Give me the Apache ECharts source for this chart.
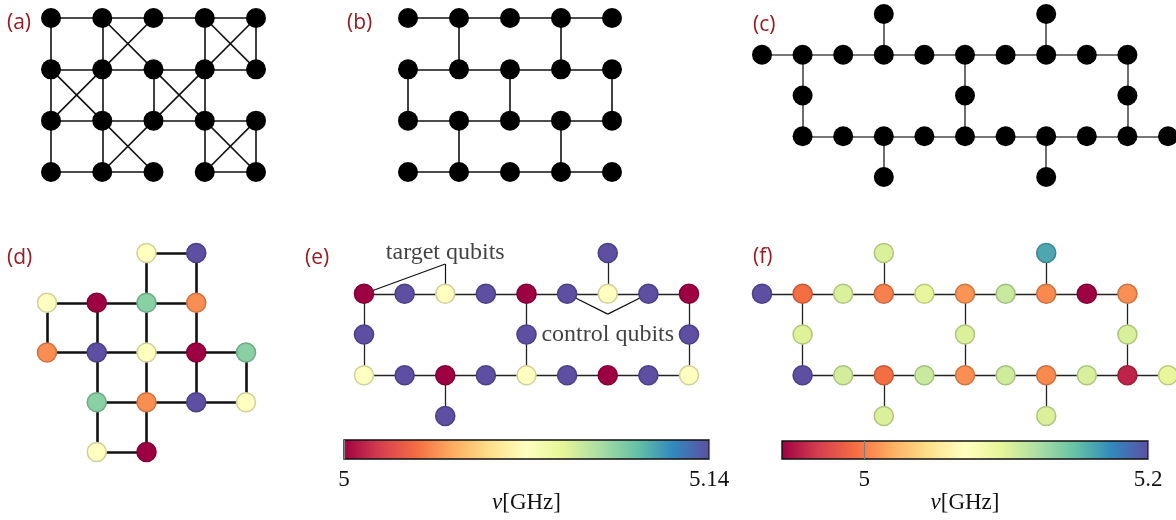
<!DOCTYPE html>
<html>
<head>
<meta charset="utf-8">
<script src="https://cdn.jsdelivr.net/npm/echarts@6/dist/echarts.min.js"></script>
<style>
  html, body { margin: 0; padding: 0; background: #fff; }
  #chart { width: 1176px; height: 520px; }
</style>
</head>
<body>
<div id="chart"></div>
<script>
// ---------- data: qubit lattices as [col, row], couplers as [c1, r1, c2, r2] ----------
const panelLabels = ['(a)', '(b)', '(c)', '(d)', '(e)', '(f)'];

// (a) square lattice with diagonal couplers
const aQubits = [
  [0,0],[1,0],[2,0],[3,0],[4,0],
  [0,1],[1,1],[2,1],[3,1],[4,1],
  [0,2],[1,2],[2,2],[3,2],[4,2],
  [0,3],[1,3],[2,3],[3,3],[4,3]
];
const aCouplers = [
  [0,0,1,0],[1,0,2,0],[2,0,3,0],[3,0,4,0],
  [0,1,1,1],[1,1,2,1],[2,1,3,1],[3,1,4,1],
  [0,2,1,2],[1,2,2,2],[2,2,3,2],[3,2,4,2],
  [0,3,1,3],[1,3,2,3],[3,3,4,3],
  [0,0,0,1],[0,1,0,2],[0,2,0,3],
  [1,0,1,1],[1,1,1,2],[1,2,1,3],
  [2,1,2,2],
  [3,0,3,1],[3,1,3,2],[3,2,3,3],
  [4,0,4,1],[4,2,4,3],
  [1,0,2,1],[2,0,1,1],
  [3,0,4,1],[4,0,3,1],
  [0,1,1,2],[1,1,0,2],
  [2,1,3,2],[3,1,2,2],
  [1,2,2,3],[2,2,1,3],
  [3,2,4,3],[4,2,3,3]
];

// (b) brick-wall lattice
const bQubits = aQubits;
const bCouplers = [
  [0,0,1,0],[1,0,2,0],[2,0,3,0],[3,0,4,0],
  [0,1,1,1],[1,1,2,1],[2,1,3,1],[3,1,4,1],
  [0,2,1,2],[1,2,2,2],[2,2,3,2],[3,2,4,2],
  [0,3,1,3],[1,3,2,3],[2,3,3,3],[3,3,4,3],
  [1,0,1,1],[3,0,3,1],
  [0,1,0,2],[2,1,2,2],[4,1,4,2],
  [1,2,1,3],[3,2,3,3]
];

// (c) / (f) heavy-hex device
const hexQubits = [
  [0,1],[1,1],[2,1],[3,1],[4,1],[5,1],[6,1],[7,1],[8,1],[9,1],
  [3,0],[7,0],
  [1,2],[5,2],[9,2],
  [1,3],[2,3],[3,3],[4,3],[5,3],[6,3],[7,3],[8,3],[9,3],[10,3],
  [3,4],[7,4]
];
const hexCouplers = [
  [0,1,1,1],[1,1,2,1],[2,1,3,1],[3,1,4,1],[4,1,5,1],[5,1,6,1],[6,1,7,1],[7,1,8,1],[8,1,9,1],
  [1,3,2,3],[2,3,3,3],[3,3,4,3],[4,3,5,3],[5,3,6,3],[6,3,7,3],[7,3,8,3],[8,3,9,3],[9,3,10,3],
  [1,1,1,2],[1,2,1,3],[5,1,5,2],[5,2,5,3],[9,1,9,2],[9,2,9,3],
  [3,0,3,1],[7,0,7,1],[3,3,3,4],[7,3,7,4]
];
// (f) qubit frequencies in GHz, same order as hexQubits
const fFreq = [
  5.2, 4.994, 5.102, 5.001, 5.094, 5.009, 5.110, 5.005, 4.942, 5.007,
  5.102, 5.161,
  5.100, 5.102, 5.103,
  5.2, 5.105, 4.994, 5.110, 5.007, 5.107, 5.005, 5.103, 4.957, 5.094,
  5.102, 5.102
];
const fRange = [4.942, 5.2];
const fTicks = [5, 5.2];

// (d) square patch, five frequency groups (0..4)
const dQubits = [
  [2,0],[3,0],
  [0,1],[1,1],[2,1],[3,1],
  [0,2],[1,2],[2,2],[3,2],[4,2],
  [1,3],[2,3],[3,3],[4,3],
  [1,4],[2,4]
];
const dGroup = [2,4, 2,0,3,1, 1,4,2,0,3, 3,1,4,2, 2,0];
const dGroupCount = 5;
const dCouplers = [
  [2,0,3,0],[2,0,2,1],[3,0,3,1],
  [0,1,1,1],[1,1,2,1],[2,1,3,1],
  [0,1,0,2],[1,1,1,2],[2,1,2,2],[3,1,3,2],
  [0,2,1,2],[1,2,2,2],[2,2,3,2],[3,2,4,2],
  [1,2,1,3],[2,2,2,3],[3,2,3,3],[4,2,4,3],
  [1,3,2,3],[2,3,3,3],[3,3,4,3],
  [1,3,1,4],[2,3,2,4],[1,4,2,4]
];

// (e) heavy-hex patch with three frequencies (GHz)
const eQubits = [
  [0,1],[1,1],[2,1],[3,1],[4,1],[5,1],[6,1],[7,1],[8,1],
  [6,0],
  [0,2],[4,2],[8,2],
  [0,3],[1,3],[2,3],[3,3],[4,3],[5,3],[6,3],[7,3],[8,3],
  [2,4]
];
const eFreq = [
  5.0, 5.14, 5.07, 5.14, 5.0, 5.14, 5.07, 5.14, 5.0,
  5.14,
  5.14, 5.14, 5.14,
  5.07, 5.14, 5.0, 5.14, 5.07, 5.14, 5.0, 5.14, 5.07,
  5.14
];
const eCouplers = [
  [0,1,1,1],[1,1,2,1],[2,1,3,1],[3,1,4,1],[4,1,5,1],[5,1,6,1],[6,1,7,1],[7,1,8,1],
  [0,3,1,3],[1,3,2,3],[2,3,3,3],[3,3,4,3],[4,3,5,3],[5,3,6,3],[6,3,7,3],[7,3,8,3],
  [0,1,0,2],[0,2,0,3],[4,1,4,2],[4,2,4,3],[8,1,8,2],[8,2,8,3],
  [6,0,6,1],[2,3,2,4]
];
const eRange = [5, 5.14];
const eTicks = [5, 5.14];
// callouts in (e): text anchor, leader-line junction, qubits pointed at
const eNotes = ['target qubits', 'control qubits'];
const eNoteAt = [[2, 0], [6, 2]];
const eNoteJoin = [[2, 0.27], [6, 1.5]];
const eNoteTargets = [[[0,1],[2,1]], [[5,1],[7,1]]];

// ---------- colours ----------
const SPECTRAL = ['#9e0142','#d53e4f','#f46d43','#fdae61','#fee08b','#ffffbf',
                  '#e6f598','#abdda4','#66c2a5','#3288bd','#5e4fa2'];
function hexToRgb(h) { return [1,3,5].map(i => parseInt(h.slice(i, i + 2), 16)); }
const SPECTRAL_RGB = SPECTRAL.map(hexToRgb);
function spectralRgb(t) {
  t = Math.max(0, Math.min(1, t));
  const p = t * (SPECTRAL_RGB.length - 1);
  const i = Math.min(Math.floor(p), SPECTRAL_RGB.length - 2);
  const f = p - i;
  return SPECTRAL_RGB[i].map((c, k) => c + (SPECTRAL_RGB[i + 1][k] - c) * f);
}
const rgb = (c, s) => 'rgb(' + c.map(v => Math.round(v * s)).join(',') + ')';

const LABEL_RED = '#9b1b20';
const SERIF = '"Liberation Serif", "DejaVu Serif", serif';
const SANS = '"Open Sans", "Noto Sans", sans-serif';

// ---------- layout of the panels ----------
const panels = [
  { left: 51,  top: 18,  width: 205, height: 154, xMax: 4,  yMax: 3 },  // a
  { left: 408, top: 18,  width: 204, height: 154, xMax: 4,  yMax: 3 },  // b
  { left: 762, top: 14,  width: 406, height: 163, xMax: 10, yMax: 4 },  // c
  { left: 47,  top: 253, width: 199, height: 199, xMax: 4,  yMax: 4 },  // d
  { left: 364, top: 253, width: 325, height: 163, xMax: 8,  yMax: 4 },  // e
  { left: 762, top: 253, width: 406, height: 163, xMax: 10, yMax: 4 }   // f
];
const labelPos = [[7,13],[347,13],[753,15],[7,248],[305,248],[753,247]];

const grid = [], xAxis = [], yAxis = [], series = [];
panels.forEach((p, i) => {
  grid.push({ left: p.left, top: p.top, width: p.width, height: p.height, outerBoundsMode: 'none' });
  xAxis.push({ type: 'value', gridIndex: i, min: 0, max: p.xMax, show: false });
  yAxis.push({ type: 'value', gridIndex: i, min: 0, max: p.yMax, inverse: true, show: false });
});

function lattice(gi, qubits, couplers, fills, edge, size) {
  series.push({
    type: 'lines', coordinateSystem: 'cartesian2d', xAxisIndex: gi, yAxisIndex: gi,
    silent: true, z: 1, clip: false,
    lineStyle: { color: edge.color, width: edge.width, opacity: 1 },
    data: couplers.map(e => ({ coords: [[e[0], e[1]], [e[2], e[3]]] }))
  });
  series.push({
    type: 'scatter', xAxisIndex: gi, yAxisIndex: gi, silent: true, z: 3, clip: false,
    symbol: 'circle', symbolSize: size,
    data: qubits.map((q, k) => {
      const f = fills ? fills(k) : null;
      return {
        value: q,
        itemStyle: f
          ? { color: rgb(f, 1), borderColor: rgb(f, 0.82), borderWidth: 1.6, opacity: 1 }
          : { color: '#000', borderWidth: 0, opacity: 1 }
      };
    })
  });
}

lattice(0, aQubits, aCouplers, null, { color: '#111', width: 1.6 }, 20);
lattice(1, bQubits, bCouplers, null, { color: '#111', width: 1.6 }, 20);
lattice(2, hexQubits, hexCouplers, null, { color: '#4a4a4a', width: 1.6 }, 20);
lattice(3, dQubits, dCouplers, k => spectralRgb(dGroup[k] / (dGroupCount - 1)),
        { color: '#111', width: 2.6 }, 19);
lattice(4, eQubits, eCouplers, k => spectralRgb((eFreq[k] - eRange[0]) / (eRange[1] - eRange[0])),
        { color: '#222', width: 1.3 }, 19);
lattice(5, hexQubits, hexCouplers, k => spectralRgb((fFreq[k] - fRange[0]) / (fRange[1] - fRange[0])),
        { color: '#222', width: 1.3 }, 19);

// callouts in (e)
series.push({
  type: 'lines', coordinateSystem: 'cartesian2d', xAxisIndex: 4, yAxisIndex: 4,
  silent: true, z: 2, clip: false,
  lineStyle: { color: '#111', width: 1.2, opacity: 1 },
  data: eNoteJoin.flatMap((j, i) => eNoteTargets[i].map(t => ({ coords: [j, t] })))
});
series.push({
  type: 'scatter', xAxisIndex: 4, yAxisIndex: 4, silent: true, z: 4, clip: false,
  symbolSize: 1, itemStyle: { color: 'rgba(0,0,0,0)' },
  label: { show: true, position: 'inside', formatter: '{b}',
           fontFamily: SERIF, fontSize: 24, color: '#111' },
  data: eNoteAt.map((p, i) => ({ value: p, name: eNotes[i] }))
});

// ---------- colour bars ----------
const barStops = SPECTRAL.map((c, i) => ({ offset: i / (SPECTRAL.length - 1), color: c }));
const bars = [
  { left: 344, top: 440, width: 365, height: 19, range: eRange, ticks: eTicks },
  { left: 782, top: 441, width: 366, height: 18, range: fRange, ticks: fTicks }
];
bars.forEach((b, k) => {
  const gi = grid.length;
  grid.push({
    left: b.left, top: b.top, width: b.width, height: b.height, show: true,
    outerBoundsMode: 'none',
    backgroundColor: new echarts.graphic.LinearGradient(0, 0, 1, 0, barStops),
    borderColor: '#111', borderWidth: 1.4
  });
  xAxis.push({
    type: 'value', gridIndex: gi, min: b.range[0], max: b.range[1],
    axisLine: { show: false }, splitLine: { show: false },
    axisTick: { show: true, inside: true, length: b.height, customValues: b.ticks,
                lineStyle: { color: '#808080', width: 1.2 } },
    axisLabel: { show: true, customValues: b.ticks, margin: 9,
                 fontFamily: SERIF, fontSize: 23, color: '#111',
                 formatter: v => String(+v.toFixed(2)) },
    name: '{i|ν}[GHz]', nameLocation: 'middle', nameGap: 32,
    nameTextStyle: { fontFamily: SERIF, fontSize: 23, color: '#111',
                     rich: { i: { fontFamily: SERIF, fontSize: 23, fontStyle: 'italic', color: '#111' } } }
  });
  yAxis.push({ type: 'value', gridIndex: gi, min: 0, max: 1, show: false });
});

const chart = echarts.init(document.getElementById('chart'), null, { renderer: 'canvas' });
chart.setOption({
  animation: false,
  backgroundColor: '#fff',
  title: panelLabels.map((t, i) => ({
    text: t, left: labelPos[i][0], top: labelPos[i][1], padding: 0,
    textStyle: { fontFamily: SANS, fontSize: 21, fontWeight: 'normal', color: LABEL_RED }
  })),
  grid, xAxis, yAxis, series
});
</script>
</body>
</html>
